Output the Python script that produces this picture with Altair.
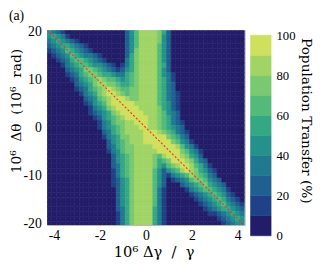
import altair as alt
import pandas as pd

# Rows of the map: Δθ (10^-6 rad) from +20 down to -20, one row per unit.
theta_rows = list(range(20, -21, -1))
# Columns of the map: 10^6 Δγ/γ cell centres from -4.2 to +4.2, step 0.2.
gamma_cols = [round(-4.2 + 0.2 * i, 1) for i in range(43)]

# Contour band for each cell:
# digit k means a population transfer of 10k .. 10k+10 %.
level_rows = [
    "4321" "0000000000000" "2468888752" "0000000000000000",            # 20
    "454310" "00000000000" "2468888742" "0000000000000000",            # 19
    "34543210" "000000000" "2468888742" "0000000000000000",            # 18
    "2345543210" "0000000" "2468888642" "0000000000000000",            # 17
    "12346543210" "000000" "2478888642" "0000000000000000",            # 16
    "0123465433210" "0000" "2578888642" "0000000000000000",            # 15
    "00123566543210" "000" "3578888642" "0000000000000000",            # 14
    "0001345665443210" "1" "35788886520" "000000000000000",            # 13
    "0000" "234577654321" "24578888642" "0000000000000000",            # 12
    "0000" "123567765543" "356788886431" "000000000000000",            # 11
    "00000" "124567876654" "56788886531" "000000000000000",            # 10
    "000000" "23457887765" "56788886532" "000000000000000",            # 9
    "000000" "12356789876" "67788886532" "000000000000000",            # 8
    "0000000" "13457899876" "77888865321" "00000000000000",            # 7
    "00000000" "234678999877" "888865321" "00000000000000",            # 6
    "00000000" "124568999998" "888865421" "00000000000000",            # 5
    "000000000" "13457899999" "888875421" "00000000000000",            # 4
    "000000000" "123457899999" "88876432" "00000000000000",            # 3
    "0000000000" "124567899999" "88765320" "0000000000000",            # 2
    "00000000000" "13467788999" "88765321" "0000000000000",            # 1
    "00000000000" "134567888998" "8765432" "0000000000000",            # 0
    "000000000000" "2356788889998765321" "000000000000",               # -1
    "000000000000" "1345778889999976532" "000000000000",               # -2
    "0000000000000" "2456788899999976431" "00000000000",               # -3
    "0000000000000" "23567788889999986431" "0000000000",               # -4
    "0000000000000" "134677888889999976431" "000000000",               # -5
    "00000000000000" "24567888876899987542" "000000000",               # -6
    "00000000000000" "245678888756799987532" "00000000",               # -7
    "00000000000000" "2356788887546789986531" "0000000",               # -8
    "00000000000000" "13567888864245689875421" "000000",               # -9
    "00000000000000" "13567888864213456876532" "000000",               # -10
    "00000000000000" "124578888642" "0" "12346776432" "00000",         # -11
    "00000000000000" "124578888642" "000" "2345675432" "0000",         # -12
    "000000000000000" "24578888631" "0000" "1345665431" "000",         # -13
    "000000000000000" "24578888631" "00000" "1234565421" "00",         # -14
    "000000000000000" "24578888631" "000000" "1234565321" "0",         # -15
    "000000000000000" "24578888631" "0000000" "1234564321",            # -16
    "000000000000000" "23578888531" "00000000" "123455432",            # -17
    "000000000000000" "13578888531" "000000000" "11234543",            # -18
    "000000000000000" "13578888531" "00000000000" "123454",            # -19
    "000000000000000" "13578888531" "000000000000" "12344",            # -20
]

# Red dashed reference line (ends of the drawn segment)
line_gamma = [-4.3, 4.3]
line_theta = [20.43, -20.43]

# Colour bar bands (percent)
bar_lo = [0, 10, 20, 30, 40, 50, 60, 70, 80, 90]
bar_hi = [10, 20, 30, 40, 50, 60, 70, 80, 90, 100]
bar_ticks = [0, 20, 40, 60, 80, 100]

colors = ["#231d69", "#1f4185", "#1e6090", "#1f7a8f", "#24918a",
          "#34a885", "#52bb7b", "#78c96f", "#a0d566", "#cfe05d"]

FONT = "Liberation Serif"
TFONT = "DejaVu Serif"
NB = "\u00a0"

records = []
for t, row in zip(theta_rows, level_rows):
    row = row[:43].ljust(43, "0")
    for g, ch in zip(gamma_cols, row):
        records.append({"g1": g - 0.1, "g2": g + 0.1,
                        "t1": t - 0.5, "t2": t + 0.5, "level": int(ch)})
heat_df = pd.DataFrame(records)
line_df = pd.DataFrame({"g": line_gamma, "t": line_theta})
bar_df = pd.DataFrame({"lo": bar_lo, "hi": bar_hi, "level": list(range(10))})

xs = alt.Scale(domain=[-4.3, 4.3], nice=False, zero=False)
ys = alt.Scale(domain=[-20.3, 20.3], nice=False, zero=False)
cs = alt.Scale(domain=list(range(10)), range=colors)

heat = alt.Chart(heat_df).mark_rect(clip=True, strokeWidth=0.6).encode(
    x=alt.X("g1:Q", scale=xs,
            axis=alt.Axis(values=[-4, -2, 0, 2, 4], labelExpr="toString(datum.value)",
                          title="10⁶ Δγ" + NB + " /" + NB + " γ",
                          grid=False, ticks=False, domain=False,
                          labelFlush=False, labelPadding=4,
                          labelFont=FONT, labelFontSize=14,
                          titleFont=TFONT, titleFontSize=15,
                          titleX=109, titleY=27, titleAlign="center",
                          titleBaseline="middle")),
    x2="g2:Q",
    y=alt.Y("t1:Q", scale=ys,
            axis=alt.Axis(values=[-20, -10, 0, 10, 20], labelExpr="toString(datum.value)",
                          title="10⁶" + NB + " Δθ" + NB + " (10⁶" + NB + " rad)",
                          grid=False, ticks=False, domain=False,
                          labelPadding=6, labelFont=FONT, labelFontSize=14,
                          titleFont=TFONT, titleFontSize=14,
                          titleX=-31, titleY=82, titleAngle=-90,
                          titleAlign="center", titleBaseline="middle")),
    y2="t2:Q",
    color=alt.Color("level:O", scale=cs, legend=None),
    stroke=alt.Stroke("level:O", scale=cs, legend=None),
)

ref_line = alt.Chart(line_df).mark_line(
    clip=True, color="#ee2e2a", strokeDash=[2, 2], strokeWidth=1.1
).encode(x=alt.X("g:Q", scale=xs), y=alt.Y("t:Q", scale=ys))

bar = alt.Chart(bar_df).mark_rect(strokeWidth=0.6).encode(
    x=alt.value(208), x2=alt.value(229),
    y=alt.Y("lo:Q", scale=alt.Scale(domain=[0, 100], range=[210, 5], nice=False, zero=False),
            axis=alt.Axis(orient="right", values=bar_ticks, offset=27, ticks=False,
                          domain=False, grid=False, labelPadding=5, labelFlush=False,
                          labelFont=FONT, labelFontSize=13,
                          title="Population Transfer (%)",
                          titleFont=TFONT, titleFontSize=14,
                          titleX=35, titleY=92, titleAngle=90,
                          titleAlign="center", titleBaseline="middle")),
    y2="hi:Q",
    color=alt.Color("level:O", scale=cs, legend=None),
    stroke=alt.Stroke("level:O", scale=cs, legend=None),
)

chart = alt.layer(alt.layer(heat, ref_line), bar).resolve_scale(
    y="independent"
).properties(
    width=202, height=199,
    autosize=alt.AutoSizeParams(type="none"),
    padding={"left": 40, "top": 20, "right": 76, "bottom": 36},
    title=alt.TitleParams("(a)", anchor="start", frame="group", dx=-39, offset=2,
                          font=FONT, fontSize=14, fontWeight="normal", color="black"),
).configure_view(
    stroke="#b4b4b4", strokeWidth=1
).configure_axis(
    labelColor="black", titleFontWeight="normal", titleColor="black",
)

chart.save("out.html", embed_options={"renderer": "svg", "actions": False})
